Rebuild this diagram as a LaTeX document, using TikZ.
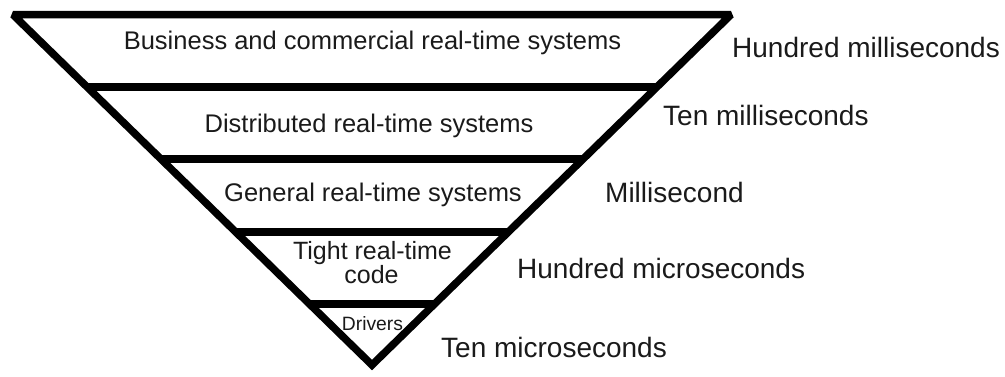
\documentclass[tikz,border=0pt]{standalone}
\usepackage{fontspec}
\setmainfont{Liberation Sans}
\usetikzlibrary{calc}
\definecolor{txt}{HTML}{1A1A1A}
\tikzset{
  frame/.style={line width=7.5pt, line join=miter, miter limit=2, draw=black},
  band/.style={line width=7.5pt, draw=black},
  inner/.style={anchor=base, inner sep=0pt, text=txt, font=\fontsize{25.5}{30}\selectfont},
  small/.style={anchor=base, inner sep=0pt, text=txt, font=\fontsize{25}{29}\selectfont},
  tiny/.style={anchor=base, inner sep=0pt, text=txt, font=\fontsize{19.3}{22}\selectfont},
  label/.style={anchor=base west, inner sep=0pt, text=txt, font=\fontsize{28}{32}\selectfont}
}
\begin{document}
\begin{tikzpicture}[x=1pt,y=-1pt]
\useasboundingbox (0,0) rectangle (1005,376);
\coordinate (TL) at (13,14.7);
\coordinate (TR) at (731,14.7);
\coordinate (A) at (372,365);
\draw[frame] (TL) -- (TR) -- (A) -- cycle;
\foreach \t/\n in {0.2064/1,0.4119/2,0.6203/3,0.8259/4}{
  \coordinate (l\n) at ($(TL)!\t!(A)$);
  \coordinate (r\n) at ($(TR)!\t!(A)$);
  \draw[band] (l\n) -- (r\n);
}
\node[inner] (b1) at (372.5,49) {Business and commercial real-time systems};
\node[inner] (b2) at (369,132) {Distributed real-time systems};
\node[inner] (b3) at (373,201) {General real-time systems};
\node[small] (b4a) at (372.5,259) {Tight real-time};
\node[small] (b4b) at (371.5,283) {code};
\node[tiny] (b5) at (372.5,330) {Drivers};
\node[label] (t1) at (732,57) {Hundred milliseconds};
\node[label] (t2) at (663,125) {Ten milliseconds};
\node[label] (t3) at (605,202) {Millisecond};
\node[label] (t4) at (517,278) {Hundred microseconds};
\node[label] (t5) at (441,357) {Ten microseconds};
\end{tikzpicture}
\end{document}
